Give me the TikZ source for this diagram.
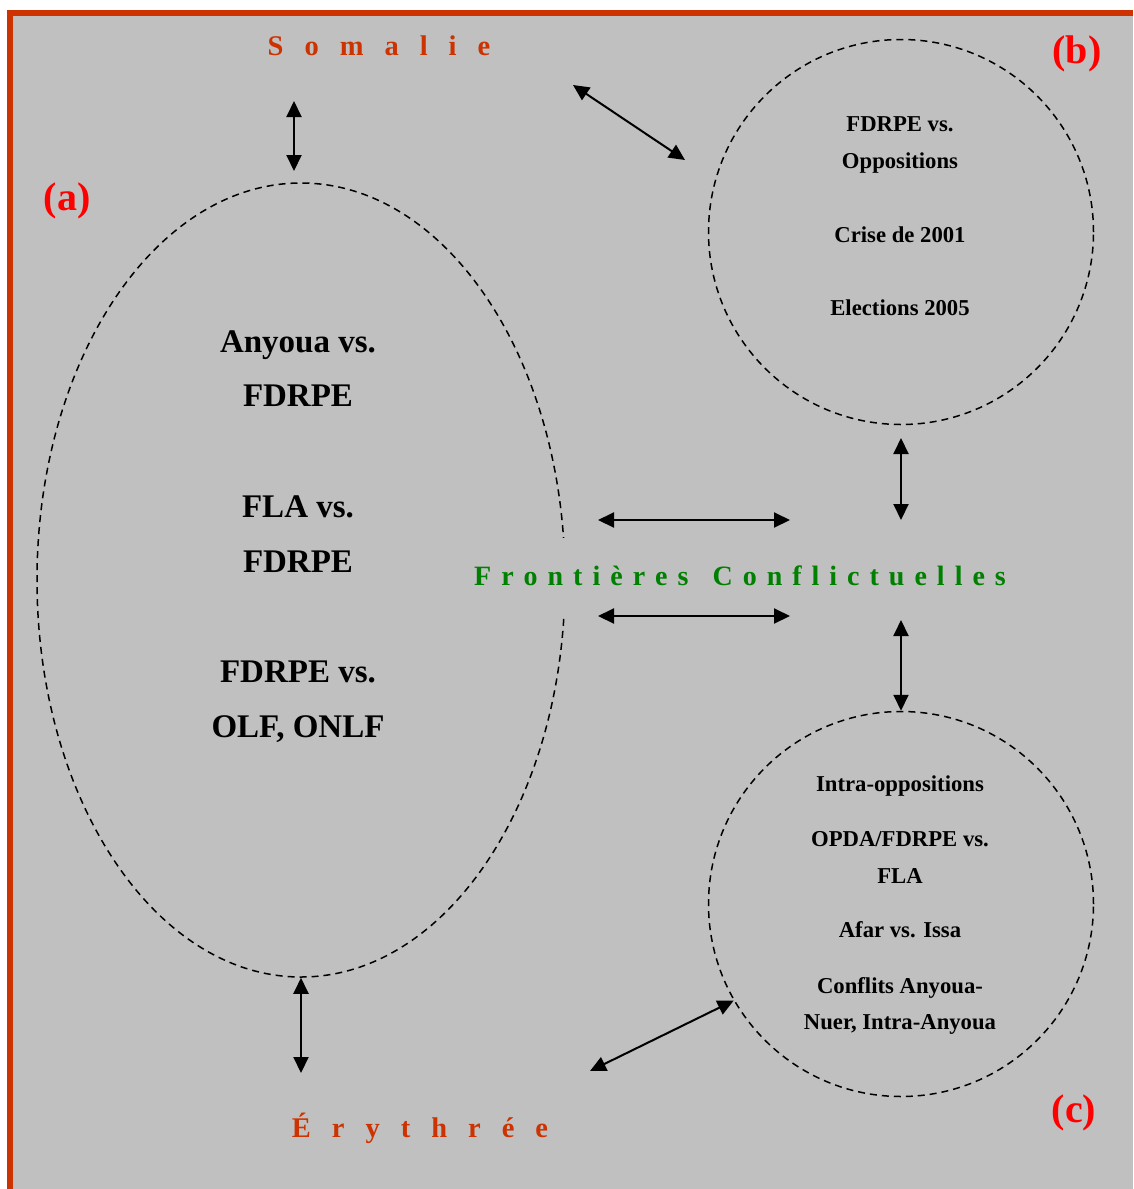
\documentclass[tikz,border=0pt]{standalone}
\usepackage{fontspec}
\setmainfont{Liberation Serif}
\usetikzlibrary{arrows.meta,shapes.geometric}
\definecolor{bg}{RGB}{192,192,192}
\definecolor{brd}{RGB}{204,51,0}
\definecolor{placecol}{RGB}{204,51,0}
\definecolor{grn}{RGB}{0,128,0}
\definecolor{lbl}{RGB}{255,0,0}
\newcommand\lsA{\hspace{21pt}}
\newcommand\lsB{\hspace{10pt}}
\begin{document}
\begin{tikzpicture}[x=1pt,y=-1pt,
  dsh/.style={draw=black,line width=1.5pt,dash pattern=on 7pt off 5pt},
  arr/.style={line width=2pt,{Triangle[length=16pt,width=15pt]}-{Triangle[length=16pt,width=15pt]}},
  big/.style={font=\bfseries\fontsize{33}{40}\selectfont,anchor=base,inner sep=0pt},
  small/.style={font=\bfseries\fontsize{22.7}{28}\selectfont,anchor=base,inner sep=0pt},
  placename/.style={font=\bfseries\fontsize{28.5}{34}\selectfont,text=placecol,anchor=base,inner sep=0pt},
  tag/.style={font=\bfseries\fontsize{40}{48}\selectfont,text=lbl,anchor=base,inner sep=0pt}]
\useasboundingbox (0,0) rectangle (1133,1189);
% background and border
\fill[bg] (12,16) rectangle (1133,1189);
\fill[brd] (7,10) rectangle (1133,16);
\fill[brd] (7,10) rectangle (13,1189);

% shapes
\node[ellipse,dsh,minimum width=528pt,minimum height=794pt,inner sep=0pt] (a) at (301,580) {};
\node[circle,dsh,minimum size=385pt,inner sep=0pt] (b) at (901,232) {};
\node[circle,dsh,minimum size=385pt,inner sep=0pt] (c) at (901,904) {};

% centre label
\node[font=\bfseries\fontsize{28}{34}\selectfont,text=grn,fill=bg,inner xsep=2pt,inner ysep=0pt,minimum height=76pt] (f) at (740,576)
  {F\lsB r\lsB o\lsB n\lsB t\lsB i\lsB è\lsB r\lsB e\lsB s\hspace{24pt}C\lsB o\lsB n\lsB f\lsB l\lsB i\lsB c\lsB t\lsB u\lsB e\lsB l\lsB l\lsB e\lsB s};

% place names
\node[placename] (som) at (379,55) {S\lsA o\lsA m\lsA a\lsA l\lsA i\lsA e};
\node[placename] (ery) at (420,1137) {É\lsA r\lsA y\lsA t\lsA h\lsA r\lsA é\lsA e};

% tags
\node[tag] (ta) at (67,210) {(a)};
\node[tag] (tb) at (1077,63) {(b)};
\node[tag] (tc) at (1074,1122) {(c)};

% ellipse (a) texts
\node[big] (a1) at (298,352) {Anyoua vs.};
\node[big] (a2) at (298,406) {FDRPE};
\node[big] (a3) at (298,517) {FLA vs.};
\node[big] (a4) at (298,572) {FDRPE};
\node[big] (a5) at (298,682) {FDRPE vs.};
\node[big] (a6) at (298,737) {OLF, ONLF};

% circle (b) texts
\node[small] (b1) at (900,131) {FDRPE vs.};
\node[small] (b2) at (900,168) {Oppositions};
\node[small] (b3) at (900,242) {Crise de 2001};
\node[small] (b4) at (900,315) {Elections 2005};

% circle (c) texts
\node[small] (c1) at (900,791) {Intra-oppositions};
\node[small] (c2) at (900,846) {OPDA/FDRPE vs.};
\node[small] (c3) at (900,883) {FLA};
\node[small] (c4) at (900,937) {Afar vs. Issa};
\node[small] (c5) at (900,993) {Conflits Anyoua-};
\node[small] (c6) at (900,1029) {Nuer, Intra-Anyoua};

% connector ends
\coordinate (somA) at (294,101);
\coordinate (aSom) at (294,171);
\coordinate (somB) at (573,85);
\coordinate (bSom) at (685,160);
\coordinate (aF1) at (598,520);
\coordinate (fA1) at (790,520);
\coordinate (aF2) at (598,616);
\coordinate (fA2) at (790,616);
\coordinate (bF) at (901,438);
\coordinate (fB) at (901,520);
\coordinate (fC) at (901,620);
\coordinate (eryA) at (301,1073);
\coordinate (eryC) at (590,1071);

% connectors
\draw[arr] (somA) -- (aSom);
\draw[arr] (somB) -- (bSom);
\draw[arr] (aF1) -- (fA1);
\draw[arr] (aF2) -- (fA2);
\draw[arr] (bF) -- (fB);
\draw[arr] (fC) -- (c.north);
\draw[arr] (a.south) -- (eryA);
\draw[arr] (eryC) -- (c.210);
\end{tikzpicture}
\end{document}
